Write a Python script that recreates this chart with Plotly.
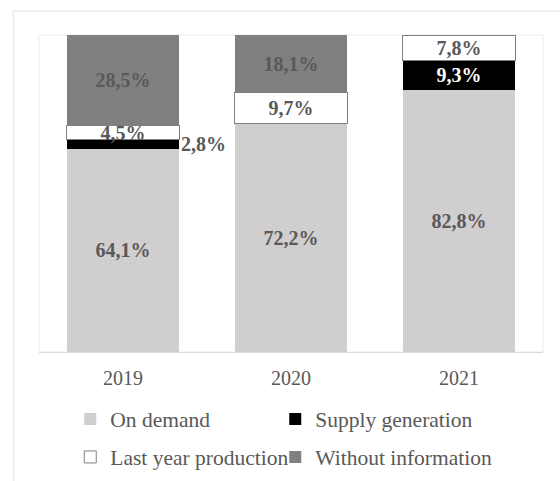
import plotly.graph_objects as go

years = ["2019", "2020", "2021"]
on_demand = [64.1, 72.2, 82.8]
supply_generation = [2.8, 0.0, 9.3]
last_year_production = [4.5, 9.7, 7.8]
without_information = [28.5, 18.1, 0.0]

series_names = ["On demand", "Supply generation", "Last year production", "Without information"]
fill_colors = ["#d0cece", "#000000", "#ffffff", "#808080"]
label_colors = ["#595959", "#ffffff", "#595959", "#595959"]

SERIF = "Liberation Serif"
GRAY_TEXT = "#595959"


def pct(v):
    return f"{v:.1f}".replace(".", ",") + "%"


def labels(values, skip=()):
    return ["" if (v == 0 or i in skip) else pct(v) for i, v in enumerate(values)]


fig = go.Figure()

series = [on_demand, supply_generation, last_year_production, without_information]
# the thin 2019 supply slice gets its label beside the bar instead of inside
skips = [(), (0,), (), ()]
legend_ids = ["legend", "legend", "legend2", "legend2"]
entry_widths = [160, 185, 160, 185]

for name, vals, fill, lc, skip, lg, ew in zip(series_names, series, fill_colors,
                                              label_colors, skips, legend_ids,
                                              entry_widths):
    outlined = fill == "#ffffff"
    fig.add_trace(go.Bar(
        x=years, y=vals, name=name,
        marker=dict(color=fill,
                    line=dict(color="#808080" if outlined else fill,
                              width=1 if outlined else 0)),
        text=labels(vals, skip),
        textposition="inside",
        insidetextanchor="middle",
        constraintext="none",
        textangle=0,
        textfont=dict(family=SERIF, size=20, color=lc, weight="bold"),
        legend=lg,
        legendwidth=ew,
        hoverinfo="skip",
    ))

# label for the 2019 supply-generation slice, placed right of the bar
fig.add_annotation(
    x=years.index("2019"), y=on_demand[0] + supply_generation[0] / 2,
    xref="x", yref="y",
    text=pct(supply_generation[0]),
    showarrow=False, xanchor="left", yanchor="middle", xshift=56,
    font=dict(family=SERIF, size=20, color=GRAY_TEXT, weight="bold"),
)

legend_common = dict(
    orientation="h", xanchor="left", yanchor="middle",
    x=0.062, yref="container", entrywidthmode="pixels",
    font=dict(family=SERIF, size=21.5, color=GRAY_TEXT),
    bgcolor="rgba(0,0,0,0)", borderwidth=0, traceorder="normal",
)

fig.update_layout(
    width=560, height=481,
    margin=dict(l=39, r=17, t=35, b=129, autoexpand=False),
    paper_bgcolor="white", plot_bgcolor="white",
    barmode="stack", bargap=0.33,
    showlegend=True,
    legend=dict(y=0.129, **legend_common),
    legend2=dict(y=0.050, **legend_common),
    xaxis=dict(
        type="category", range=[-0.5, len(years) - 0.5],
        showline=True, linecolor="#d9d9d9", linewidth=1,
        ticks="outside", ticklen=8, tickcolor="rgba(0,0,0,0)",
        tickfont=dict(family=SERIF, size=20, color=GRAY_TEXT),
        showgrid=False, zeroline=False, fixedrange=True,
    ),
    yaxis=dict(range=[0, 100], visible=False, showgrid=False, fixedrange=True),
    shapes=[
        # plot-area frame
        dict(type="rect", xref="paper", yref="paper", x0=0, x1=1, y0=0, y1=1,
             line=dict(color="#ebebeb", width=1), layer="below"),
        # outer chart frame
        dict(type="rect", xref="paper", yref="paper",
             x0=-0.0506, x1=1.2, y0=-0.6, y1=1.0757,
             line=dict(color="#f0f0f0", width=2), layer="below"),
    ],
)

fig.write_html("out.html")
